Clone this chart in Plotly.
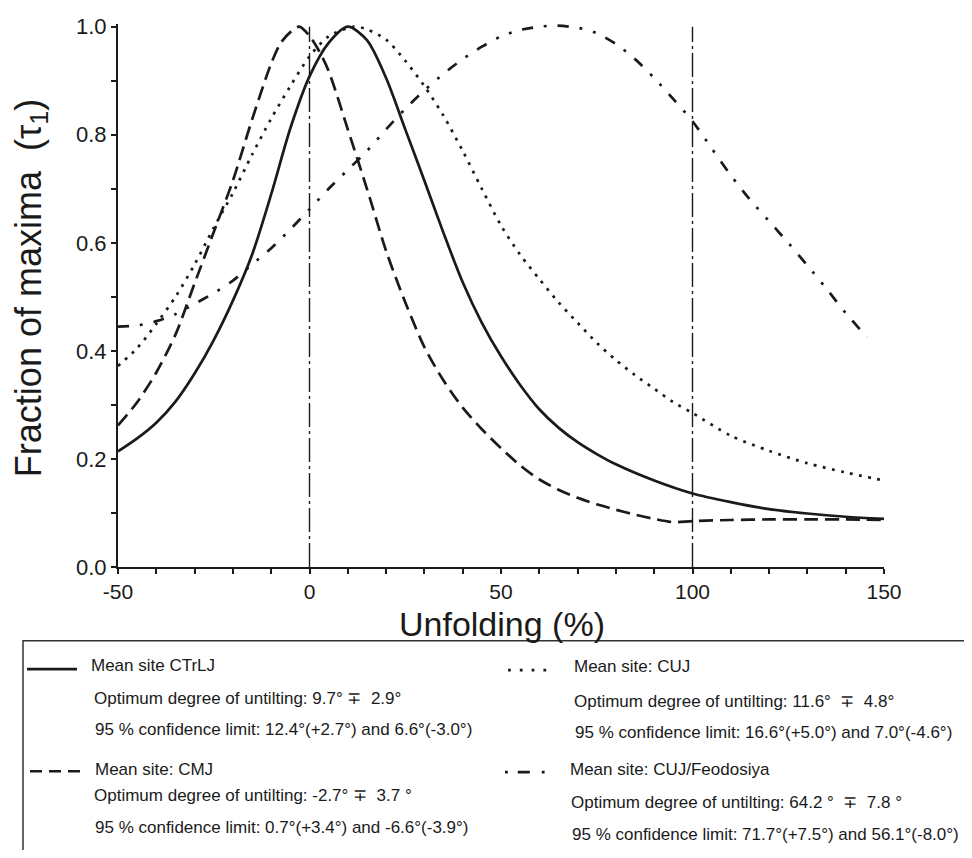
import plotly.graph_objects as go

# ---- data ----
x_ctrlj = [-50, -45, -40, -35, -30, -25, -20, -15, -10, -5, 0, 5, 10, 15, 20, 25, 30, 35, 40, 45,
           50, 55, 60, 65, 70, 75, 80, 90, 100, 110, 120, 130, 140, 150]
y_ctrlj = [0.214, 0.238, 0.267, 0.306, 0.358, 0.42, 0.493, 0.578, 0.69, 0.812, 0.908, 0.97, 1.0, 0.975,
           0.905, 0.81, 0.715, 0.618, 0.527, 0.452, 0.39, 0.337, 0.292, 0.258, 0.231, 0.209, 0.19,
           0.16, 0.136, 0.12, 0.107, 0.099, 0.093, 0.089]

x_cmj = [-50, -45, -40, -35, -30, -25, -20, -15, -10, -7.5, -5, -2.7, 0, 2.5, 5, 10, 15, 20, 25, 30,
         35, 40, 45, 50, 55, 60, 65, 70, 75, 80, 85, 90, 95, 100, 110, 120, 130, 140, 150]
y_cmj = [0.262, 0.305, 0.36, 0.43, 0.525, 0.62, 0.715, 0.828, 0.932, 0.97, 0.99, 1.0, 0.983, 0.955,
         0.918, 0.81, 0.70, 0.585, 0.49, 0.407, 0.345, 0.295, 0.255, 0.22, 0.188, 0.162, 0.143, 0.128,
         0.116, 0.106, 0.097, 0.089, 0.083, 0.085, 0.087, 0.088, 0.088, 0.088, 0.087]

x_cuj = [-50, -45, -40, -35, -30, -25, -20, -15, -10, -5, 0, 5, 11.6, 15, 20, 25, 30, 35, 40, 45, 50,
         55, 60, 65, 70, 75, 80, 85, 90, 95, 100, 110, 120, 130, 140, 150]
y_cuj = [0.372, 0.405, 0.45, 0.50, 0.56, 0.628, 0.692, 0.763, 0.83, 0.89, 0.945, 0.982, 1.0, 0.995,
         0.976, 0.937, 0.89, 0.835, 0.77, 0.70, 0.632, 0.578, 0.533, 0.49, 0.452, 0.415, 0.383,
         0.355, 0.33, 0.305, 0.285, 0.243, 0.215, 0.192, 0.175, 0.16]

x_feo = [-50, -45, -40, -35, -30, -25, -20, -15, -10, -5, 0, 5, 10, 15, 20, 25, 30, 35, 40, 45, 50,
         55, 60, 64.2, 70, 75, 80, 85, 90, 95, 100, 105, 110, 115, 120, 125, 130, 135, 140, 145.6]
y_feo = [0.445, 0.447, 0.455, 0.468, 0.487, 0.507, 0.53, 0.56, 0.59, 0.625, 0.662, 0.70, 0.735, 0.77,
         0.81, 0.848, 0.882, 0.913, 0.94, 0.963, 0.982, 0.994, 1.0, 1.002, 0.998, 0.988, 0.968, 0.94,
         0.905, 0.866, 0.825, 0.775, 0.725, 0.68, 0.64, 0.60, 0.558, 0.515, 0.47, 0.425]

reference_lines = [0, 100]
x_tick_vals = [-50, 0, 50, 100, 150]
x_tick_text = ["-50", "0", "50", "100", "150"]
y_tick_vals = [0.0, 0.2, 0.4, 0.6, 0.8, 1.0]

legend_titles = ["Mean site CTrLJ", "Mean site: CMJ", "Mean site: CUJ", "Mean site: CUJ/Feodosiya"]
legend_optimum = ["Optimum degree of untilting: 9.7° ∓  2.9°",
                  "Optimum degree of untilting: -2.7° ∓  3.7 °",
                  "Optimum degree of untilting: 11.6°  ∓  4.8°",
                  "Optimum degree of untilting: 64.2 °  ∓  7.8 °"]
legend_conf = ["95 % confidence limit: 12.4°(+2.7°) and 6.6°(-3.0°)",
               "95 % confidence limit: 0.7°(+3.4°) and -6.6°(-3.9°)",
               "95 % confidence limit: 16.6°(+5.0°) and 7.0°(-4.6°)",
               "95 % confidence limit: 71.7°(+7.5°) and 56.1°(-8.0°)"]

FONT = "Liberation Sans, Arial, sans-serif"
INK = "#1a1a1a"
OFF = 8                      # default page margin around the figure
W, H = 972 - 2 * OFF, 858 - 2 * OFF
ML, MT, MB = 110, 6, 283
MR = W - (884 - OFF)
PW, PH = W - ML - MR, H - MT - MB

def px(X):                   # window pixel -> paper x
    return (X - OFF - ML) / PW

def py(Y):                   # window pixel -> paper y
    return (H - MB - (Y - OFF)) / PH

dash_styles = {
    "solid": "solid",
    "dash": "14px,7px",
    "dot": "2.8px,6.5px",
    "dashdot": "11px,11px,2.8px,11px,11px,11px,2.8px,11px,2.8px,11px",
}

fig = go.Figure()
series = [
    (x_ctrlj, y_ctrlj, legend_titles[0], "solid"),
    (x_cmj, y_cmj, legend_titles[1], "dash"),
    (x_cuj, y_cuj, legend_titles[2], "dot"),
    (x_feo, y_feo, legend_titles[3], "dashdot"),
]
for xs, ys, name, st in series:
    fig.add_trace(go.Scatter(x=xs, y=ys, mode="lines", name=name,
                             line=dict(color=INK, width=2.7, dash=dash_styles[st],
                                       shape="spline", smoothing=0.8),
                             showlegend=False))

for xv in reference_lines:
    fig.add_shape(type="line", xref="x", yref="y", x0=xv, x1=xv, y0=0, y1=1.0,
                  line=dict(color=INK, width=1.4, dash="24px,4px,3px,4px"), layer="below")

# legend box
fig.add_shape(type="rect", xref="paper", yref="paper", x0=px(23), x1=px(1000),
              y0=py(642), y1=py(900), line=dict(color="#333333", width=1.5))

# legend entries (sample x0, x1, sample y, title x, title y, opt x, opt y, conf x, conf y)
legend_layout = [
    (27, 77, 671, 89, 667, 92, 701, 93, 732),
    (30, 80, 775, 93, 773, 92, 800, 93, 832),
    (508, 555, 672, 572, 668, 572, 704, 573, 736),
    (505, 548, 776, 568, 773, 569, 807, 570, 839),
]
legend_sample_dash = ["solid", "12px,7px", "2.8px,9px", "2.8px,10px,12px,12px,2.8px,40px"]
for i, (sx0, sx1, sy, tx, ty, ox, oy, cx, cy) in enumerate(legend_layout):
    fig.add_shape(type="line", xref="paper", yref="paper", x0=px(sx0), x1=px(sx1),
                  y0=py(sy), y1=py(sy), line=dict(color=INK, width=2.7, dash=legend_sample_dash[i]))
    for txt, ax, ay in [(legend_titles[i], tx, ty), (legend_optimum[i], ox, oy), (legend_conf[i], cx, cy)]:
        fig.add_annotation(text=txt, xref="paper", yref="paper", x=px(ax), y=py(ay),
                           xanchor="left", yanchor="middle", showarrow=False,
                           font=dict(family=FONT, size=17, color=INK))

# axis titles
fig.add_annotation(text="Unfolding (%)", xref="paper", yref="paper", x=px(502), y=py(625),
                   xanchor="center", yanchor="middle", showarrow=False, borderpad=0,
                   font=dict(family=FONT, size=34, color=INK))
fig.add_annotation(text="Fraction of maxima  (τ<sub>1</sub>)", xref="paper", yref="paper",
                   x=px(31), y=py(283), textangle=-90, xanchor="center", yanchor="middle",
                   showarrow=False, font=dict(family=FONT, size=36, color=INK))

fig.update_layout(
    width=W, height=H,
    margin=dict(l=ML, r=MR, t=MT, b=MB),
    paper_bgcolor="white", plot_bgcolor="white",
    font=dict(family=FONT, color=INK),
    xaxis=dict(range=[-50, 150], tickvals=x_tick_vals, ticktext=x_tick_text, ticks="outside",
               ticklen=5, tickwidth=1.5, tickcolor=INK, showline=True, linecolor=INK, linewidth=2,
               showgrid=False, zeroline=False, ticklabeloverflow="allow",
               tickfont=dict(size=21, family=FONT, color=INK),
               minor=dict(dtick=10, tick0=0, ticks="outside", ticklen=5, tickwidth=1.5, tickcolor=INK,
                          showgrid=False)),
    yaxis=dict(range=[0, 1.005], tickvals=y_tick_vals, tickformat=".1f", ticks="outside", ticklen=5,
               tickwidth=1.5, tickcolor=INK, showline=True, linecolor=INK, linewidth=2,
               showgrid=False, zeroline=False, ticklabeloverflow="allow",
               tickfont=dict(size=22, family=FONT, color=INK),
               minor=dict(dtick=0.1, tick0=0, ticks="outside", ticklen=5, tickwidth=1.5,
                          tickcolor=INK, showgrid=False)),
)

fig.write_html("out.html")
